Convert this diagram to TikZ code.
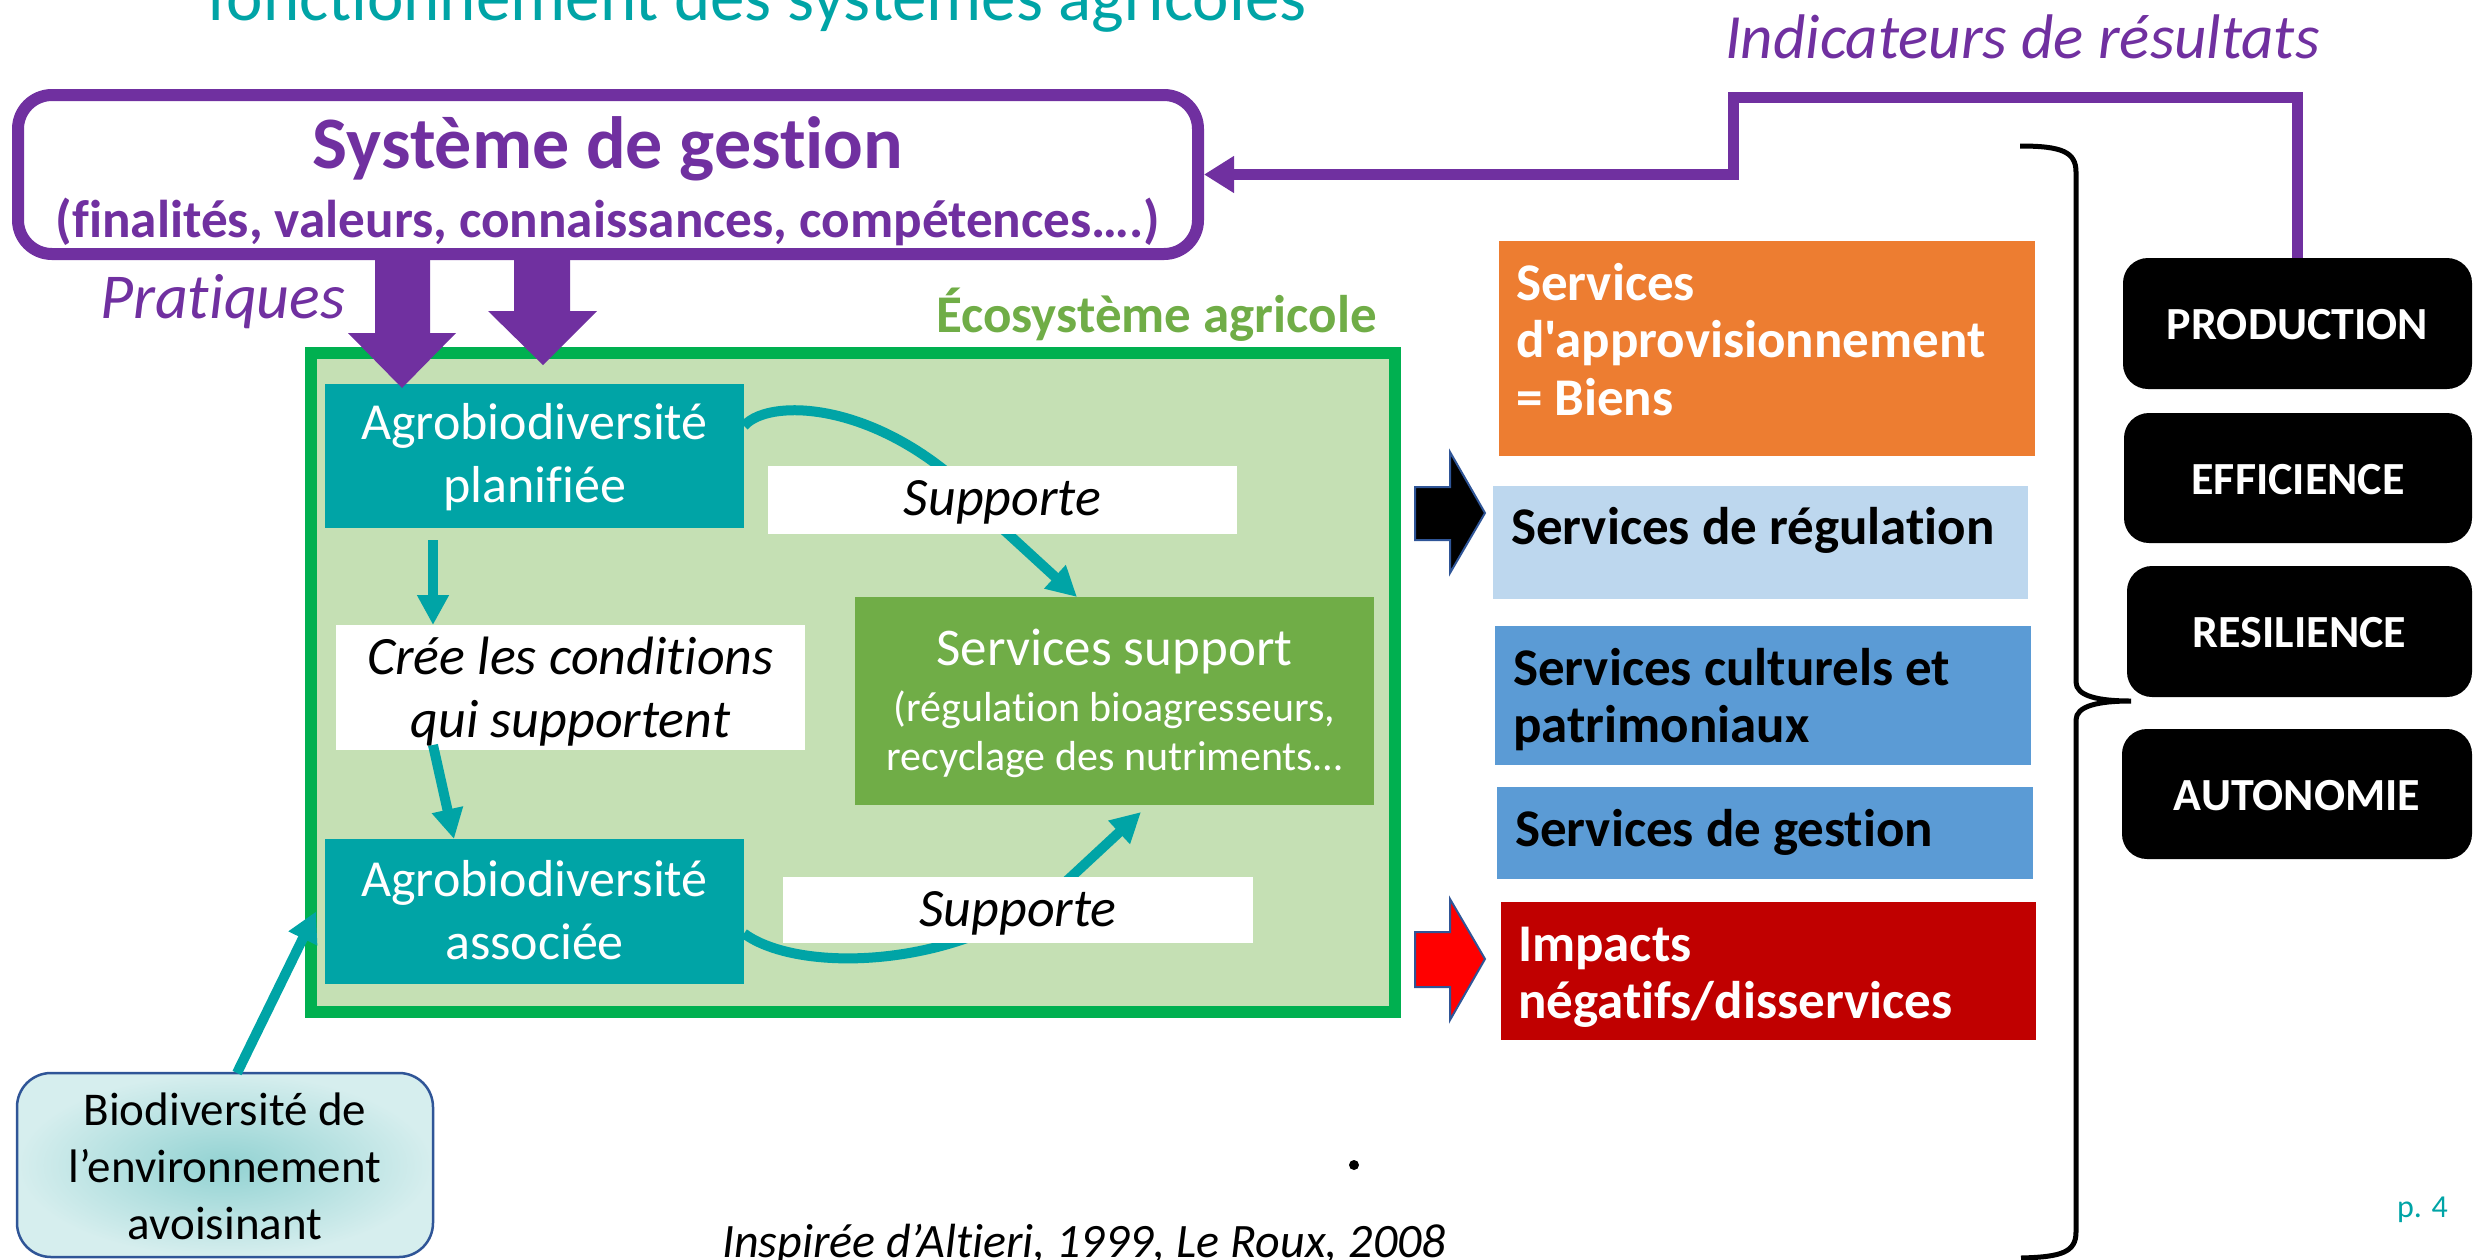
\documentclass[tikz,border=0pt]{standalone}
\usepackage{fontspec}
\setmainfont{Carlito}[Ligatures={TeX,NoCommon}, RawFeature={-liga;-clig;-calt;-dlig}]
\newfontfamily\carlplain{Carlito}[Ligatures=NoCommon, RawFeature={-liga;-clig;-calt;-dlig}]
\usetikzlibrary{arrows.meta}
\definecolor{purp}{RGB}{112,48,160}
\definecolor{tealc}{RGB}{0,164,166}
\definecolor{ecostroke}{RGB}{0,176,80}
\definecolor{ecofill}{RGB}{197,224,180}
\definecolor{leaf}{RGB}{112,173,71}
\definecolor{orangeb}{RGB}{237,125,49}
\definecolor{lblue}{RGB}{189,215,238}
\definecolor{mblue}{RGB}{91,155,213}
\definecolor{darkred}{RGB}{192,0,0}
\definecolor{navy}{RGB}{47,85,151}
\definecolor{bdin}{RGB}{146,210,210}
\definecolor{bdout}{RGB}{214,238,238}
\newcommand{\fs}[2]{\fontsize{#1}{#2}\selectfont}
\newcommand{\sk}{\spaceskip=0.226em\relax\xspaceskip=0.226em\relax}
\tikzset{
  box/.style={inner sep=0pt, outer sep=0pt, align=center},
  tealbox/.style={box, fill=tealc, text=white, font=\fs{26}{31.5}},
  labelbox/.style={box, fill=white, text=black, font=\itshape\fs{27}{31.5}},
  svc/.style={box, align=left, font=\bfseries\fs{26.5}{28.75}},
  ind/.style={box, fill=black, text=white, rounded corners=12.5pt, font=\bfseries\fs{23}{27.6}},
  tealarrow/.style={draw=tealc, line width=5pt, -{Triangle[length=15pt,width=15pt]}},
  blockarrow/.style={draw=navy, line width=1pt},
  freetext/.style={inner sep=0pt, outer sep=0pt, anchor=base west}
}
\begin{document}
\begin{tikzpicture}[x=0.5pt, y=-0.5pt]
\useasboundingbox (0,0) rectangle (2475,1259);

% title (cut at top)
\node[freetext, text=tealc, font=\fs{34.5}{40}] (title) at (207,20) {fonctionnement des systèmes agricoles};

% management system box
\node[box, draw=purp, line width=6pt, fill=white, rounded corners=17pt,
      minimum width=590pt, minimum height=79.5pt, text width=580pt,
      text=purp, font=\bfseries\fs{37}{34.5}, text height=0pt, text depth=6.5pt]
  (sys) at (608,174.5) {\sk Système de gestion\\{\fs{26.6}{34.5}\sk(finalités, valeurs, connaissances, compétences….)}};

\node[freetext, text=purp, font=\itshape\fs{31.5}{36}] (indic) at (1725,58) {Indicateurs de résultats};
\node[freetext, text=purp, font=\itshape\fs{32}{37}] (prat) at (100,318) {Pratiques};
\node[freetext, text=leaf, font=\bfseries\fs{26.5}{32}] (ecolab) at (936,332) {Écosystème agricole};

% agricultural ecosystem
\node[box, draw=ecostroke, line width=6pt, fill=ecofill, minimum width=542pt, minimum height=329.5pt] (eco) at (853,682.5) {};

\node[tealbox, minimum width=209.5pt, minimum height=72pt, text width=200pt, text height=0pt, text depth=17pt]
  (plan) at (534.5,456) {Agrobiodiversité\\planifiée};
\node[labelbox, minimum width=234.5pt, minimum height=62.5pt, text width=225pt, text height=0pt, text depth=13.5pt]
  (cree) at (570.5,687.5) {\sk Crée les conditions\\\sk qui supportent};
\node[tealbox, minimum width=209.5pt, minimum height=72.5pt, text width=200pt, text height=0pt, text depth=15.5pt]
  (assoc) at (534.5,911.5) {Agrobiodiversité\\associée};
\node[box, fill=leaf, text=white, minimum width=259.5pt, minimum height=104pt, text width=250pt,
      font=\fs{21}{24.5}, text height=0pt, text depth=36pt]
  (sserv) at (1114.5,701) {{\fs{26.5}{24.5}\sk Services support}\\[3.5pt]\sk(régulation bioagresseurs,\\\sk recyclage des nutriments…};

% teal connectors (under the labels)
\draw[tealarrow] ([yshift=15pt]plan.east) .. controls (770,395) and (900,400) .. (1005,531) -- ([xshift=-18.75pt]sserv.north);
\draw[tealarrow] ([yshift=-11pt]assoc.east) .. controls (800,975) and (971,970) .. (1071,877) -- ([xshift=13.25pt,yshift=-3.5pt]sserv.south);

\node[labelbox, minimum width=234.5pt, minimum height=34pt, text width=230pt, text height=15pt, text depth=0pt]
  (sup1) at (1002.5,500) {Supporte};
\node[labelbox, minimum width=235pt, minimum height=33pt, text width=230pt, text height=16pt, text depth=0pt]
  (sup2) at (1018,910) {Supporte};

\draw[tealarrow] ([xshift=-50.75pt,yshift=-6pt]plan.south) -- ([xshift=-68.75pt]cree.north);
\draw[tealarrow] ([xshift=-68.75pt,yshift=2.5pt]cree.south) -- ([xshift=-40.25pt]assoc.north);

% surrounding biodiversity
\node[box, draw=navy, line width=1.25pt, rounded corners=17pt, inner color=bdin, outer color=bdout,
      minimum width=208pt, minimum height=92pt, text width=200pt, font=\fs{23.5}{28.5},
      text height=0pt, text depth=40pt]
  (biodiv) at (225,1165) {\sk Biodiversité de\\l’environnement\\avoisinant};
\draw[tealarrow] ([xshift=6pt]biodiv.north) -- ([xshift=-4.5pt]assoc.west);

% practices block arrows
\fill[purp] (375,255) -- (430,255) -- (430,333) -- (456,333) -- (402,388) -- (348,333) -- (375,333) -- cycle;
\fill[purp] (514,255) -- (570,255) -- (570,311) -- (597,311) -- (543,365) -- (488,311) -- (514,311) -- cycle;

% services column
\node[svc, fill=orangeb, text=white, minimum width=268pt, minimum height=107.5pt, text width=251pt, text height=0pt, text depth=48.5pt]
  (appro) at (1767,348.5) {Services\\{\carlplain\bfseries d'approvisionnement}\\\sk = Biens};
\node[svc, fill=lblue, text=black, minimum width=267.5pt, minimum height=56.5pt, text width=249.5pt, text height=1.5pt, text depth=0pt]
  (regul) at (1760.5,542.5) {\sk Services de régulation};
\node[svc, fill=mblue, text=black, minimum width=268pt, minimum height=69.5pt, text width=250pt, text height=0pt, text depth=10.5pt]
  (cult) at (1763,695.5) {\sk Services culturels et\\patrimoniaux};
\node[svc, fill=mblue, text=black, minimum width=268pt, minimum height=46pt, text width=250pt, text height=13pt, text depth=0pt]
  (gest) at (1765,833) {\sk Services de gestion};
\node[svc, fill=darkred, text=white, minimum width=267.5pt, minimum height=69pt, text width=250.5pt, text height=0pt, text depth=10pt]
  (impact) at (1768.5,971) {Impacts\\négatifs/disservices};

% block arrows to services
\filldraw[blockarrow, fill=black] (1415,487) -- (1450,487) -- (1450,452) -- (1485,513) -- (1450,573) -- (1450,540) -- (1415,540) -- cycle;
\filldraw[blockarrow, fill=red] (1415,932) -- (1450,932) -- (1450,899) -- (1485,959) -- (1450,1020) -- (1450,987) -- (1415,987) -- cycle;

% brace
\draw[line width=2.5pt] (2020,146) .. controls (2062,146) and (2076,152) .. (2076,172) -- (2076,682)
  .. controls (2076,696) and (2098,701) .. (2131,701) .. controls (2098,701) and (2076,706) .. (2076,720)
  -- (2076,1232) .. controls (2076,1252) and (2062,1257) .. (2021,1258);

% indicators
\node[ind, minimum width=174.5pt, minimum height=65.5pt, text width=170pt, text height=15.5pt, text depth=0pt] (prod) at (2297.5,323.5) {PRODUCTION};
\node[ind, minimum width=174pt, minimum height=65pt, text width=170pt, text height=16pt, text depth=0pt] (eff) at (2298,478) {EFFICIENCE};
\node[ind, minimum width=172.5pt, minimum height=65.5pt, text width=170pt, text height=15.5pt, text depth=0pt] (res) at (2299.5,631.5) {RESILIENCE};
\node[ind, minimum width=175pt, minimum height=65pt, text width=170pt, text height=16pt, text depth=0pt] (auton) at (2297,794) {AUTONOMIE};

% feedback connector
\draw[purp, line width=5.5pt, -{Triangle[length=15pt,width=17.5pt]}] (prod.north) |- (1733,97) |- ([xshift=3pt]sys.east);

% footer
\node[circle, fill=black, inner sep=0pt, minimum size=5pt] (dot) at (1354,1165) {};
\node[freetext, text=black, font=\itshape\fs{24}{28}] (cite) at (722,1257) {Inspirée d’Altieri, 1999, Le Roux, 2008};
\node[freetext, text=tealc, font=\fs{16}{19}] (page) at (2397,1217) {p. 4};
\end{tikzpicture}
\end{document}
